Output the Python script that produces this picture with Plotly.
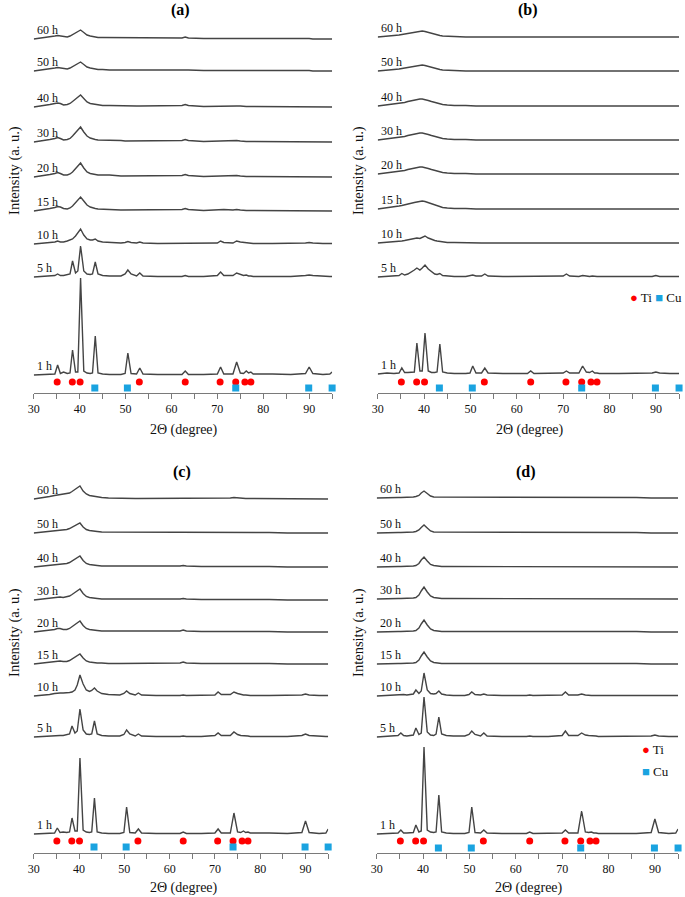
import plotly.graph_objects as go

# ---------------- data ----------------
THETA = [30, 32, 33.5, 34.6, 35.2, 35.8, 36.5, 37.3, 37.9, 38.45,
         39.1, 39.6, 40.2, 40.9, 41.6, 42.3, 42.8, 43.4, 44.0, 45.0,
         46.5, 49.0, 49.9, 50.5, 51.2, 52.4, 53.1, 53.8, 57, 62.3,
         63.0, 63.7, 67, 70.0, 70.7, 71.4, 73.4, 74.2, 75.0, 75.7,
         76.3, 76.8, 77.3, 77.8, 82, 86, 89.2, 90.0, 90.8, 93,
         94.5, 95]

TIMES = ["1 h", "5 h", "10 h", "15 h", "20 h", "30 h", "40 h", "50 h", "60 h"]

TI_PEAKS = [35.1, 38.4, 40.1, 53.0, 63.0, 70.6, 74.0, 76.0, 77.3]
CU_PEAKS = [43.3, 50.4, 74.0, 89.9, 95.0]

PANEL_A = {
    "1 h": [0, 0.5, 0.5, 1, 10, 1.5, 3, 1.5, 2, 25,
            3, 3, 97, 4, 2, 1.5, 2, 39, 2, 1,
            0.5, 0.5, 1.5, 22, 1.5, 1, 7, 1, 0.5, 0.5,
            4, 0.5, 0.5, 1, 8, 1, 1, 13, 2, 1.5,
            4, 2, 3, 1, 1, 0.5, 1.5, 8, 1.5, 0.5,
            1, 3],
    "5 h": [0, 0.5, 1, 1.5, 3, 1.5, 1.5, 2, 3, 16,
            4, 6, 31, 6, 3, 2.5, 3, 15, 3, 1.5,
            1, 1, 3, 7, 3, 1, 4, 1, 0.5, 0.5,
            1.5, 0.5, 0.5, 1.5, 5, 1.5, 1.5, 4, 2.5, 1.5,
            2, 1, 1, 0.5, 0.5, 0.5, 1.5, 2, 1.5, 0.5,
            0.5, 0.5],
    "10 h": [0, 0.5, 1.5, 2, 3, 2, 2, 3, 4, 5,
             8, 11, 15, 9, 5, 4, 4, 5, 3, 2,
             1.5, 1, 1.5, 2.5, 1.5, 1, 2, 1, 0.5, 0.5,
             1, 0.5, 0.5, 1, 3, 1.5, 1, 3, 2, 1.5,
             1, 1, 0.5, 0.5, 0.5, 0.5, 1, 1.5, 1, 0.5,
             0.5, 0.5],
    "15 h": [0, 1, 2.5, 3.5, 4.5, 4, 2.5, 2, 3, 5,
             8, 11, 14, 10, 6, 4, 3, 2.5, 2, 1.5,
             1.5, 1, 1, 1, 1, 1, 1, 1, 1, 1.5,
             2.5, 1.5, 0.5, 1, 1.5, 1.5, 1, 1.5, 1, 0.5,
             0.5, 0.5, 0.5, 0.5, 0.5, 0.5, 0.5, 0.5, 0.5, 0.5,
             0, 0],
    "20 h": [0, 1, 2.5, 3.5, 4.5, 3.5, 2, 2, 3, 5,
             8, 11, 14, 9, 5, 3.5, 3, 2.5, 2, 2,
             2, 1, 1, 1, 1, 1, 1, 1, 1, 1.5,
             2.5, 1.5, 0.5, 1, 1.5, 1.5, 1.5, 1.5, 1, 0.5,
             0.5, 0.5, 0.5, 0.5, 0.5, 0.5, 0.5, 0.5, 0.5, 0,
             0, 0],
    "30 h": [0, 1, 2.5, 3.5, 4.5, 3.5, 2, 2.5, 3.5, 6,
             9, 12, 15, 10, 6, 4, 3, 2.5, 2, 2,
             2, 1.5, 1, 1, 1, 1, 1, 1, 1, 1.5,
             2.5, 1.5, 0.5, 1, 1.5, 1.5, 1.5, 1.5, 1, 0.5,
             0.5, 0.5, 0.5, 0.5, 0.5, 0.5, 0.5, 0.5, 0, 0,
             0, 0],
    "40 h": [0, 1, 2.5, 3.5, 4, 3.5, 2, 2.5, 3.5, 5.5,
             8, 10, 12, 8.5, 5, 3.5, 3, 2.5, 2, 1.5,
             1.5, 1, 1, 1, 1, 1, 1, 1, 1, 1.5,
             2.5, 1.5, 0.5, 1, 1, 1, 1, 1, 1, 0.5,
             0.5, 0.5, 0.5, 0.5, 0.5, 0.5, 0.5, 0.5, 0, 0,
             0, 0],
    "50 h": [0, 1, 2, 3, 3.5, 3, 2, 2, 3, 4.5,
             6, 7.5, 9, 6.5, 4, 3, 2.5, 2, 1.5, 1.5,
             1, 1, 1, 1, 1, 1, 1, 1, 1, 1,
             1.5, 1, 0.5, 0.5, 1, 1, 1, 1, 0.5, 0.5,
             0.5, 0.5, 0.5, 0.5, 0.5, 0.5, 0.5, 0.5, 0, 0,
             0, 0],
    "60 h": [0, 1, 2, 3, 3.5, 3, 2, 2, 3, 4.5,
             6, 7.5, 9, 6.5, 4, 3, 2.5, 2, 1.5, 1.5,
             1.5, 1, 1, 1, 1, 1, 1, 1, 1, 1,
             2, 1, 0.5, 0.5, 1, 1, 1, 1, 1, 0.5,
             0.5, 0.5, 0.5, 0.5, 0.5, 0.5, 0.5, 0.5, 0, 0,
             0, 0],
}

PANEL_B = {
    "1 h": [0, 1, 0.5, 1, 6, 1.5, 1.5, 1.5, 2, 31,
            3, 3, 41, 3, 1.5, 1.5, 2, 30, 2, 1,
            0.5, 0.5, 1, 8, 1, 1, 6, 1, 0.5, 0.5,
            3, 0.5, 0.5, 1, 3, 1, 1, 8, 2, 1.5,
            3, 1, 1, 0.5, 0.5, 0.5, 1, 2, 1, 0.5,
            0.5, 0.5],
    "5 h": [0, 0.5, 1, 1.5, 3.5, 2, 3, 5, 7, 9,
            7, 9, 12, 8, 5, 3, 2.5, 3.5, 1.5, 1,
            0.5, 0.5, 1, 2, 1, 1, 3, 1, 0.5, 0.5,
            1, 0.5, 0.5, 1, 3, 1, 0.5, 1.5, 1, 0.5,
            1, 0.5, 0.5, 0.5, 0.5, 0.5, 0.5, 1.5, 0.5, 0.5,
            0.5, 0.5],
    "10 h": [0, 0.5, 1, 1.5, 2, 2.5, 3, 3.5, 4, 5,
             4.5, 5.5, 7, 5, 3.5, 2.5, 2, 1.5, 1, 0.5,
             0.5, 0, 0, 0, 0, 0, 0, 0, 0, 0,
             0.5, 0, 0, 0, 0.5, 0, 0, 0.5, 0, 0,
             0, 0, 0, 0, 0, 0, 0, 0, 0, 0,
             0, 0],
    "15 h": [0, 1, 2, 3, 3.5, 4, 5, 6, 6.5, 7,
             7.5, 8, 7.5, 6.5, 5, 4, 3, 2.5, 1.5, 1,
             0.5, 0.5, 0, 0, 0, 0, 0, 0, 0, 0,
             0.5, 0, 0, 0, 0, 0, 0, 0.5, 0, 0,
             0, 0, 0, 0, 0, 0, 0, 0, 0, 0,
             0, 0],
    "20 h": [0, 1, 2, 2.5, 3, 3.5, 4.5, 5.5, 6, 6.5,
             7, 7, 6.5, 5.5, 4.5, 3.5, 2.5, 2, 1.5, 1,
             0.5, 0.5, 0, 0, 0, 0, 0, 0, 0, 0,
             0.5, 0, 0, 0, 0, 0.5, 0.5, 0.5, 0, 0,
             0, 0, 0, 0, 0, 0, 0, 0, 0, 0,
             0, 0],
    "30 h": [0, 1, 2, 2.5, 3, 3.5, 4.5, 5.5, 6, 6.5,
             7, 7, 6.5, 5.5, 4.5, 3.5, 2.5, 2, 1.5, 1,
             0.5, 0.5, 0, 0, 0, 0, 0, 0, 0, 0,
             0, 0, 0, 0, 0, 0, 0, 0.5, 0, 0,
             0, 0, 0, 0, 0, 0, 0, 0, 0, 0,
             0, 0],
    "40 h": [0, 1, 2, 2.5, 3, 3.5, 4.5, 5.5, 6, 6.5,
             7, 7, 6.5, 5.5, 4.5, 3.5, 2.5, 2, 1.5, 1,
             0.5, 0.5, 0, 0, 0, 0, 0, 0, 0, 0,
             0, 0, 0, 0, 0, 0, 0, 0, 0, 0,
             0, 0, 0, 0, 0, 0, 0, 0, 0, 0,
             0, 0],
    "50 h": [0, 0.5, 1.5, 2, 2.5, 3, 4, 4.5, 5, 5.5,
             6, 6, 5.5, 4.5, 3.5, 2.5, 2, 1.5, 1, 0.5,
             0.5, 0, 0, 0, 0, 0, 0, 0, 0, 0,
             0, 0, 0, 0, 0, 0, 0, 0, 0, 0,
             0, 0, 0, 0, 0, 0, 0, 0, 0, 0,
             0, 0],
    "60 h": [0, 0.5, 1.5, 2, 2.5, 3, 4, 4.5, 5, 5.5,
             6, 6, 5.5, 4.5, 3.5, 2.5, 2, 1.5, 1, 0.5,
             0.5, 0, 0, 0, 0, 0, 0, 0, 0, 0,
             0, 0, 0, 0, 0, 0, 0, 0, 0, 0,
             0, 0, 0, 0, 0, 0, 0, 0, 0, 0,
             0, 0],
}

PANEL_C = {
    "1 h": [0, 0.5, 0.5, 1, 6, 1.5, 2, 1.5, 2, 16,
            3, 3, 76, 4, 2, 1.5, 2, 36, 2, 1,
            0.5, 0.5, 1.5, 27, 1.5, 1, 5, 1, 0.5, 0.5,
            2, 0.5, 0.5, 1, 5, 1, 1, 21, 2, 1.5,
            3, 1.5, 2, 1, 1, 0.5, 1.5, 13, 1.5, 0.5,
            1, 5],
    "5 h": [0, 0.5, 1, 1.5, 2, 1.5, 1.5, 2, 3, 11,
            4, 6, 28, 7, 3, 2.5, 3, 16, 3, 1.5,
            1, 1, 2.5, 7, 3, 1, 3, 1, 0.5, 0.5,
            1, 0.5, 0.5, 1.5, 4, 1.5, 1.5, 5, 2.5, 1.5,
            1.5, 1, 1, 0.5, 0.5, 0.5, 1.5, 3, 1.5, 0.5,
            0.5, 0.5],
    "10 h": [0, 0.5, 1.5, 2.5, 3, 3, 3, 3, 3.5, 4,
             6, 11, 21, 12, 6, 4.5, 5.5, 8, 5, 2.5,
             1.5, 1, 2.5, 5, 2.5, 1, 3, 1, 0.5, 0.5,
             1, 0.5, 0.5, 1, 4, 1.5, 1.5, 4, 2.5, 1.5,
             1, 1, 0.5, 0.5, 0.5, 0.5, 1, 2, 1, 0.5,
             0.5, 0.5],
    "15 h": [0, 1, 2, 2.5, 3, 3, 2.5, 2.5, 3.5, 5,
             7, 9, 10, 6, 3, 2, 1.5, 1.5, 1, 1,
             0.5, 0.5, 0.5, 0.5, 0.5, 0.5, 0.5, 0.5, 0.5, 1,
             2, 1, 0.5, 0.5, 1, 1, 1, 1, 1, 0.5,
             0.5, 0.5, 0.5, 0.5, 0.5, 0, 0, 0, 0, 0,
             0, 0],
    "20 h": [0, 1, 2, 2.5, 3.5, 3.5, 2.5, 2.5, 3.5, 5.5,
             7.5, 9.5, 11, 6.5, 3.5, 2.5, 2, 1.5, 1.5, 1,
             1, 1, 0.5, 0.5, 0.5, 0.5, 0.5, 0.5, 0.5, 1,
             2, 1, 0.5, 0.5, 1, 1, 1, 1, 0.5, 0.5,
             0.5, 0.5, 0.5, 0.5, 0.5, 0, 0, 0, 0, 0,
             0, 0],
    "30 h": [0, 1, 2, 2.5, 3, 3, 2.5, 3, 4, 5.5,
             7.5, 9.5, 11, 6.5, 3.5, 2.5, 2, 1.5, 1.5, 1,
             1, 1, 0.5, 0.5, 0.5, 0.5, 0.5, 0.5, 0.5, 1,
             1.5, 1, 0.5, 0.5, 1, 1, 1, 1, 0.5, 0.5,
             0.5, 0.5, 0.5, 0.5, 0.5, 0, 0, 0, 0, 0,
             0, 0],
    "40 h": [0, 1, 2, 2.5, 2.5, 2.5, 3, 3.5, 4.5, 6,
             8, 9.5, 11, 6.5, 3.5, 2.5, 2, 1.5, 1.5, 1,
             1, 1, 0.5, 0.5, 0.5, 0.5, 0.5, 0.5, 0.5, 1,
             1.5, 1, 0.5, 0.5, 1, 1, 1, 1, 0.5, 0.5,
             0.5, 0.5, 0.5, 0.5, 0.5, 0, 0, 0, 0, 0,
             0, 0],
    "50 h": [0, 1, 2, 2.5, 3, 3, 3, 3.5, 4.5, 6,
             7.5, 9, 10, 6, 3.5, 2.5, 2, 1.5, 1.5, 1,
             1, 1, 0.5, 0.5, 0.5, 0.5, 0.5, 0.5, 0.5, 0.5,
             1, 0.5, 0.5, 0.5, 1, 1, 1, 1, 0.5, 0.5,
             0.5, 0.5, 0.5, 0.5, 0.5, 0, 0, 0, 0, 0,
             0, 0],
    "60 h": [0, 1, 2.5, 3.5, 4, 4, 4.5, 5, 6, 7.5,
             9.5, 11, 13, 8, 5, 3.5, 3, 2.5, 2, 1.5,
             1, 0.5, 0.5, 0.5, 0.5, 0.5, 0.5, 0.5, 0.5, 0.5,
             0.5, 0.5, 0.5, 0.5, 0.5, 0.5, 1, 1.5, 1, 0.5,
             0.5, 0.5, 0.5, 0.5, 0, 0, 0, 0, 0, 0,
             0, 0],
}

PANEL_D = {
    "1 h": [0, 0.5, 0.5, 1, 4, 1, 1, 1, 1.5, 9,
            2, 3, 87, 4, 2, 1.5, 2, 39, 2, 1,
            0.5, 0.5, 1.5, 27, 1.5, 1, 4, 1, 0.5, 0.5,
            2, 0.5, 0.5, 1, 4, 1, 1, 23, 2, 1.5,
            2, 1, 1, 0.5, 0.5, 0.5, 1.5, 15, 1.5, 0.5,
            1, 5],
    "5 h": [0, 0.5, 1, 1.5, 4, 1.5, 1, 1.5, 2, 9,
            2.5, 4, 40, 5, 2, 1.5, 3, 20, 3, 1.5,
            1, 1, 2.5, 6, 2.5, 1, 4, 1, 0.5, 0.5,
            1, 0.5, 0.5, 1.5, 6, 1.5, 1.5, 4, 2, 1.5,
            1.5, 1, 1, 0.5, 0.5, 0.5, 1, 2, 1, 0.5,
            0.5, 0.5],
    "10 h": [0, 0.5, 1, 1.5, 2, 1.5, 1, 1.5, 2, 6,
             2.5, 5, 23, 6, 2.5, 2, 2.5, 5, 2, 1,
             0.5, 0.5, 1.5, 4, 1.5, 1, 2, 1, 0.5, 0.5,
             1, 0.5, 0.5, 1, 4, 1, 1, 2, 1, 0.5,
             0.5, 0.5, 0.5, 0.5, 0.5, 0.5, 0.5, 1, 0.5, 0.5,
             0.5, 0.5],
    "15 h": [0, 0.5, 0.5, 0.5, 0.5, 0.5, 0.5, 0.5, 1, 1.5,
             4, 8, 12, 7, 3, 1.5, 1, 1, 0.5, 0.5,
             0.5, 0.5, 0.5, 0.5, 0.5, 0.5, 0.5, 0.5, 0.5, 0.5,
             1, 0.5, 0.5, 0.5, 0.5, 0.5, 0.5, 1, 0.5, 0.5,
             0.5, 0.5, 0.5, 0.5, 0.5, 0.5, 0, 0, 0, 0,
             0, 0],
    "20 h": [0, 0.5, 0.5, 0.5, 0.5, 0.5, 0.5, 0.5, 1, 1.5,
             4, 8, 12, 7, 3, 1.5, 1, 1, 0.5, 0.5,
             0.5, 0.5, 0.5, 0.5, 0.5, 0.5, 0.5, 0.5, 0.5, 0.5,
             1, 0.5, 0.5, 0.5, 0.5, 0.5, 1, 1, 0.5, 0.5,
             0.5, 0.5, 0.5, 0.5, 0.5, 0.5, 0, 0, 0, 0,
             0, 0],
    "30 h": [0, 0.5, 0.5, 0.5, 0.5, 0.5, 0.5, 0.5, 1, 1.5,
             4, 8, 12, 7, 3, 1.5, 1, 1, 0.5, 0.5,
             0.5, 0.5, 0.5, 0.5, 0.5, 0.5, 0.5, 0.5, 0.5, 0.5,
             0.5, 0.5, 0.5, 0.5, 0.5, 0.5, 0.5, 0.5, 0.5, 0.5,
             0.5, 0.5, 0.5, 0.5, 0.5, 0.5, 0, 0, 0, 0,
             0, 0],
    "40 h": [0, 0.5, 0.5, 0.5, 0.5, 0.5, 0.5, 0.5, 1, 1.5,
             3.5, 7, 10, 6, 2.5, 1.5, 1, 1, 0.5, 0.5,
             0.5, 0.5, 0.5, 0.5, 0.5, 0.5, 0.5, 0.5, 0.5, 0.5,
             0.5, 0.5, 0.5, 0.5, 0.5, 0.5, 0.5, 0.5, 0.5, 0.5,
             0.5, 0.5, 0.5, 0.5, 0.5, 0.5, 0, 0, 0, 0,
             0, 0],
    "50 h": [0, 0.5, 0.5, 0.5, 0.5, 0.5, 0.5, 0.5, 1, 1.5,
             3, 5.5, 8, 5, 2, 1, 1, 0.5, 0.5, 0.5,
             0.5, 0.5, 0.5, 0.5, 0.5, 0.5, 0.5, 0.5, 0.5, 0.5,
             0.5, 0.5, 0.5, 0.5, 0.5, 0.5, 0.5, 0.5, 0.5, 0.5,
             0.5, 0.5, 0.5, 0.5, 0.5, 0.5, 0, 0, 0, 0,
             0, 0],
    "60 h": [0, 0.5, 0.5, 0.5, 0.5, 0.5, 0.5, 0.5, 1, 1.5,
             2.5, 5, 7, 4.5, 2, 1, 1, 0.5, 0.5, 0.5,
             0.5, 0.5, 0.5, 0.5, 0.5, 0.5, 0.5, 0.5, 0.5, 0.5,
             0.5, 0.5, 0.5, 0.5, 0.5, 0.5, 0.5, 0.5, 0.5, 0.5,
             0.5, 0.5, 0.5, 0.5, 0.5, 0.5, 0, 0, 0, 0,
             0, 0],
}

# ---------------- layout helpers ----------------
W, H = 685, 897
FONT = "Liberation Serif"
LINE_COL = "#444444"
TI_COL = "#FF0000"
CU_COL = "#1AA3E0"
AXIS_COL = "#7a7a7a"


def px(x):
    return x / W


def py(y):
    return 1 - y / H


# pixel geometry of each panel (layout, not data)
PANELS = [
    dict(key="a", data=PANEL_A, xd=(28, 329), yd=(393, 25),
         off=[18, 116, 149, 182, 216, 251, 286, 322, 354], ti=11, cu=5,
         title=(176, 10), xt=(180, 430), yt=(8, 170)),
    dict(key="b", data=PANEL_B, xd=(375, 679), yd=(393, 25),
         off=[19, 116, 150, 184, 219, 253, 287, 322, 356], ti=11, cu=5,
         title=(527, 10), xt=(529, 430), yt=(355, 170)),
    dict(key="c", data=PANEL_C, xd=(28, 325), yd=(853, 485),
         off=[19, 116, 157, 189, 221, 253, 286, 320, 354], ti=12, cu=6,
         title=(178, 472), xt=(180, 888), yt=(8, 632)),
    dict(key="d", data=PANEL_D, xd=(374, 678), yd=(853, 485),
         off=[19, 116, 157, 189, 221, 254, 286, 320, 355], ti=12, cu=5,
         title=(525, 472), xt=(528, 888), yt=(355, 632)),
]

fig = go.Figure()
annotations = []
layout = {}

tickvals = list(range(30, 96, 5))
ticktext = [str(v) if v % 10 == 0 else "" for v in tickvals]

for i, p in enumerate(PANELS):
    n = "" if i == 0 else str(i + 1)
    xa, ya = "x" + n, "y" + n
    yrange = p["yd"][0] - p["yd"][1]
    for t, off in zip(TIMES, p["off"]):
        vals = p["data"][t]
        assert len(vals) == len(THETA), (p["key"], t, len(vals))
        fig.add_trace(go.Scatter(
            x=THETA, y=[v + off for v in vals], mode="lines",
            line=dict(color=LINE_COL, width=1.4), xaxis=xa, yaxis=ya,
            showlegend=False, hoverinfo="skip"))
        annotations.append(dict(
            x=30.2, y=off + 9.5, xref=xa, yref=ya, text=t, showarrow=False,
            xanchor="left", yanchor="middle",
            font=dict(family=FONT, size=12, color="#111")))
    fig.add_trace(go.Scatter(
        x=TI_PEAKS, y=[p["ti"]] * len(TI_PEAKS), mode="markers",
        marker=dict(symbol="circle", size=7, color=TI_COL),
        xaxis=xa, yaxis=ya, showlegend=False, cliponaxis=False))
    fig.add_trace(go.Scatter(
        x=CU_PEAKS, y=[p["cu"]] * len(CU_PEAKS), mode="markers",
        marker=dict(symbol="square", size=7, color=CU_COL),
        xaxis=xa, yaxis=ya, showlegend=False, cliponaxis=False))

    layout["xaxis" + n] = dict(
        domain=[px(p["xd"][0]), px(p["xd"][1])], range=[30, 95],
        anchor=ya, showline=True, linecolor=AXIS_COL, linewidth=1,
        ticks="outside", ticklen=5, tickcolor=AXIS_COL, tickwidth=1,
        tickvals=tickvals, ticktext=ticktext, showgrid=False,
        zeroline=False, tickfont=dict(family=FONT, size=12, color="#111"))
    layout["yaxis" + n] = dict(
        domain=[py(p["yd"][0]), py(p["yd"][1])], range=[0, yrange],
        anchor=xa, visible=False, showgrid=False, zeroline=False)

    annotations.append(dict(
        x=px(p["title"][0]), y=py(p["title"][1]), xref="paper", yref="paper",
        text="<b>(%s)</b>" % p["key"], showarrow=False,
        xanchor="center", yanchor="middle",
        font=dict(family=FONT, size=16, color="#000")))
    annotations.append(dict(
        x=px(p["xt"][0]), y=py(p["xt"][1]), xref="paper", yref="paper",
        text="2\u0398 (degree)", showarrow=False,
        xanchor="center", yanchor="middle",
        font=dict(family=FONT, size=14, color="#111")))
    annotations.append(dict(
        x=px(p["yt"][0]), y=py(p["yt"][1]), xref="paper", yref="paper",
        text="Intensity (a. u.)", showarrow=False, textangle=-90,
        xanchor="center", yanchor="middle",
        font=dict(family=FONT, size=14.5, color="#111")))

# legends (b) and (d)
ti_lbl = '<span style="color:%s">\u25cf</span> Ti' % TI_COL
cu_lbl = '<span style="color:%s">\u25a0</span> Cu' % CU_COL
annotations.append(dict(
    x=px(628), y=py(297), xref="paper", yref="paper",
    text=ti_lbl + " " + cu_lbl, showarrow=False, xanchor="left",
    yanchor="middle", font=dict(family=FONT, size=13, color="#111")))
annotations.append(dict(
    x=px(640), y=py(749), xref="paper", yref="paper", text=ti_lbl,
    showarrow=False, xanchor="left", yanchor="middle",
    font=dict(family=FONT, size=13, color="#111")))
annotations.append(dict(
    x=px(640), y=py(771), xref="paper", yref="paper", text=cu_lbl,
    showarrow=False, xanchor="left", yanchor="middle",
    font=dict(family=FONT, size=13, color="#111")))

fig.update_layout(
    width=W, height=H, autosize=False,
    margin=dict(l=0, r=0, t=0, b=0),
    paper_bgcolor="white", plot_bgcolor="white",
    showlegend=False, annotations=annotations, **layout)

fig.write_html(
    "out.html",
    config={"displayModeBar": False},
    post_script="document.body.style.margin='0px';"
                "document.body.style.overflow='hidden';")
